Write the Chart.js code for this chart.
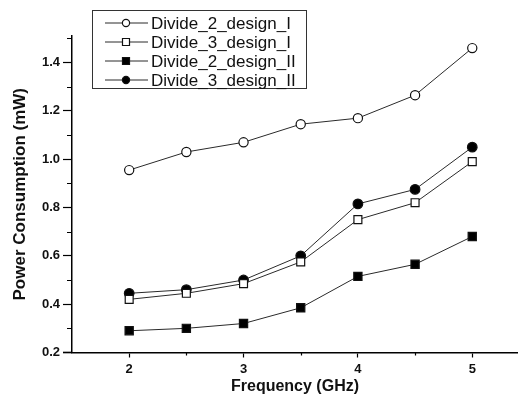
<!DOCTYPE html>
<html>
<head>
<meta charset="utf-8">
<script src="https://cdn.jsdelivr.net/npm/chart.js@4/dist/chart.umd.min.js"></script>
<style>
  html, body { margin: 0; padding: 0; background: #fff; }
  #wrap { width: 518px; height: 396px; }
</style>
</head>
<body>
<div id="wrap"><canvas id="powerChart" width="518" height="396"></canvas></div>
<script>
// frequency points (GHz)
const freqs = [2, 2.5, 3, 3.5, 4, 4.5, 5];

// power consumption (mW)
const div2DesignI  = [0.955, 1.03, 1.07, 1.145, 1.17, 1.265, 1.46];
const div3DesignI  = [0.42, 0.445, 0.485, 0.575, 0.75, 0.82, 0.99];
const div2DesignII = [0.29, 0.30, 0.32, 0.385, 0.515, 0.565, 0.68];
const div3DesignII = [0.445, 0.46, 0.50, 0.60, 0.815, 0.875, 1.05];

const seriesLabels = ['Divide_2_design_I', 'Divide_3_design_I', 'Divide_2_design_II', 'Divide_3_design_II'];

const xTicks = [2, 3, 4, 5];
const xMinor = [2.5, 3.5, 4.5];
const yTicks = [0.2, 0.4, 0.6, 0.8, 1.0, 1.2, 1.4];
const yMinor = [0.3, 0.5, 0.7, 0.9, 1.1, 1.3, 1.5];

const lineColor = '#2a2a2a';

function pairs(vals) {
    return freqs.map((f, i) => ({x: f, y: vals[i]}));
}

function makeSet(label, vals, style, filled, radius) {
    return {
        label: label,
        data: pairs(vals),
        borderColor: lineColor,
        borderWidth: 1,
        pointStyle: style,
        pointRadius: radius,
        pointBorderWidth: 1.2,
        pointBorderColor: '#111',
        pointBackgroundColor: filled ? '#000' : '#fff',
        tension: 0,
        fill: false
    };
}

// legend box drawn inside the plot, like the original figure
const boxLegend = {
    id: 'boxLegend',
    afterDraw(chart) {
        const c = chart.ctx;
        const left = 92, top = 10, w = 214, h = 78;
        c.save();
        c.fillStyle = '#fff';
        c.fillRect(left, top, w, h);
        c.strokeStyle = '#333';
        c.lineWidth = 1;
        c.strokeRect(left + 0.5, top + 0.5, w, h);
        c.font = '17px "Liberation Sans", Arial, sans-serif';
        c.textBaseline = 'middle';
        chart.data.datasets.forEach((ds, i) => {
            const y = top + 13 + i * 19;
            c.strokeStyle = lineColor;
            c.lineWidth = 1;
            c.beginPath();
            c.moveTo(105, y);
            c.lineTo(148, y);
            c.stroke();
            c.fillStyle = ds.pointBackgroundColor;
            c.strokeStyle = '#111';
            c.lineWidth = 1.2;
            c.beginPath();
            if (ds.pointStyle === 'circle') {
                c.arc(126, y, 3.6, 0, Math.PI * 2);
            } else {
                c.rect(122.5, y - 3.5, 7, 7);
            }
            c.fill();
            c.stroke();
            c.fillStyle = '#111';
            c.fillText(ds.label, 151, y + 1);
        });
        c.restore();
    }
};

// short minor tick marks and the little overhang of the x axis
const minorTicks = {
    id: 'minorTicks',
    afterDraw(chart) {
        const c = chart.ctx;
        const xs = chart.scales.x, ys = chart.scales.y;
        const area = chart.chartArea;
        c.save();
        c.strokeStyle = '#000';
        c.lineWidth = 1.2;
        c.beginPath();
        yMinor.forEach(v => {
            const p = Math.round(ys.getPixelForValue(v)) + 0.5;
            c.moveTo(area.left - 5, p);
            c.lineTo(area.left, p);
        });
        xMinor.forEach(v => {
            const p = Math.round(xs.getPixelForValue(v)) + 0.5;
            c.moveTo(p, area.bottom);
            c.lineTo(p, area.bottom + 3);
        });
        c.stroke();
        c.lineWidth = 1.5;
        c.beginPath();
        c.moveTo(area.left - 9, area.bottom);
        c.lineTo(area.left, area.bottom);
        c.stroke();
        c.restore();
    }
};

const ctx = document.getElementById('powerChart').getContext('2d');

new Chart(ctx, {
    type: 'line',
    data: {
        datasets: [
            makeSet(seriesLabels[0], div2DesignI, 'circle', false, 4.6),
            makeSet(seriesLabels[1], div3DesignI, 'rect', false, 5.6),
            makeSet(seriesLabels[2], div2DesignII, 'rect', true, 5.8),
            makeSet(seriesLabels[3], div3DesignII, 'circle', true, 4.8)
        ]
    },
    options: {
        responsive: false,
        animation: false,
        layout: { autoPadding: false, padding: { top: 36, right: 0, left: 0, bottom: 0 } },
        plugins: {
            legend: { display: false },
            tooltip: { enabled: false }
        },
        scales: {
            x: {
                type: 'linear',
                min: 1.5,
                max: 5.4,
                afterBuildTicks: s => { s.ticks = xTicks.map(v => ({value: v})); },
                afterFit: s => { s.height = 43.5; s.paddingRight = 0; s.paddingLeft = 0; },
                grid: {
                    drawOnChartArea: false,
                    drawTicks: true,
                    tickLength: 5,
                    tickColor: '#000',
                    tickWidth: 1.2
                },
                border: { display: true, color: '#000', width: 1.5 },
                ticks: {
                    padding: 4,
                    color: '#111',
                    font: { family: '"Liberation Sans", Arial, sans-serif', size: 13, weight: 'bold' },
                    callback: v => String(v)
                },
                title: {
                    display: true,
                    text: 'Frequency (GHz)',
                    color: '#111',
                    padding: { top: 0, bottom: 0 },
                    font: { family: '"Liberation Sans", Arial, sans-serif', size: 16, weight: 'bold' }
                }
            },
            y: {
                type: 'linear',
                min: 0.2,
                max: 1.51,
                afterBuildTicks: s => { s.ticks = yTicks.map(v => ({value: v})); },
                afterFit: s => { s.width = 72; s.paddingTop = 0; s.paddingBottom = 0; },
                grid: {
                    drawOnChartArea: false,
                    drawTicks: true,
                    tickLength: 9,
                    tickColor: '#000',
                    tickWidth: 1.2
                },
                border: { display: true, color: '#000', width: 1.5 },
                ticks: {
                    padding: 3,
                    color: '#111',
                    font: { family: '"Liberation Sans", Arial, sans-serif', size: 13, weight: 'bold' },
                    callback: v => v.toFixed(1)
                },
                title: {
                    display: true,
                    text: 'Power Consumption (mW)',
                    color: '#111',
                    padding: { top: 10, bottom: 0 },
                    font: { family: '"Liberation Sans", Arial, sans-serif', size: 17, weight: 'bold' }
                }
            }
        }
    },
    plugins: [minorTicks, boxLegend]
});
</script>
</body>
</html>
